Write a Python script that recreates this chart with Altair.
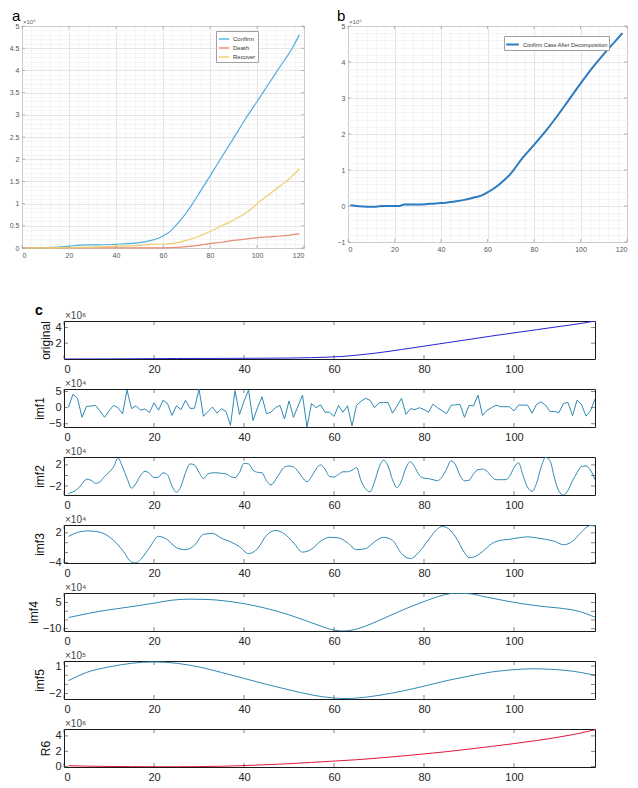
import altair as alt
import pandas as pd

FONT = "Liberation Sans"

# ---------------- panel a : cumulative cases (x10^6) ----------------
a_days_confirm = [0, 10, 20, 25, 30, 40, 50, 55, 58, 60, 62, 65, 68, 70, 72, 75, 80, 85, 90, 95, 100, 105, 110, 115, 118]
a_confirm = [0, 0.01, 0.04, 0.065, 0.07, 0.085, 0.12, 0.17, 0.22, 0.27, 0.33, 0.48, 0.66, 0.8, 0.95, 1.2, 1.62, 2.05, 2.47, 2.9, 3.3, 3.7, 4.1, 4.5, 4.8]
a_days_death = [0, 20, 40, 60, 63, 65, 70, 75, 80, 85, 90, 95, 100, 105, 110, 115, 118]
a_death = [0, 0.002, 0.004, 0.005, 0.007, 0.012, 0.03, 0.06, 0.1, 0.13, 0.17, 0.2, 0.23, 0.25, 0.27, 0.3, 0.32]
a_days_recover = [0, 10, 20, 30, 40, 50, 55, 60, 65, 70, 75, 80, 85, 90, 95, 98, 100, 105, 110, 115, 118]
a_recover = [0, 0.005, 0.01, 0.02, 0.04, 0.06, 0.08, 0.09, 0.11, 0.17, 0.26, 0.37, 0.5, 0.63, 0.78, 0.9, 1.0, 1.2, 1.4, 1.62, 1.78]
a_names = ["Confirm", "Death", "Recover"]
a_colors = ["#4FAEDB", "#E58C72", "#EDCE6C"]
a_major_y = [0, 0.5, 1, 1.5, 2, 2.5, 3, 3.5, 4, 4.5, 5]
ab_major_x = [0, 20, 40, 60, 80, 100, 120]

# ---------------- panel b : confirm case after decomposition (x10^6) ----------------
b_days = [1, 3, 5, 8, 10, 12, 15, 18, 20, 22, 23, 24, 26, 30, 35, 40, 45, 50, 55, 57, 60, 63, 65, 70, 75, 80, 85, 90, 95, 100, 105, 110, 115, 118]
b_vals = [0.02, 0.01, -0.01, -0.02, -0.02, -0.02, 0.0, 0.0, 0.0, 0.0, 0.02, 0.04, 0.04, 0.04, 0.06, 0.08, 0.12, 0.17, 0.25, 0.28, 0.38, 0.5, 0.6, 0.9, 1.33, 1.7, 2.08, 2.5, 2.95, 3.4, 3.83, 4.22, 4.58, 4.8]
b_name = "Confirm Case After Decomposition"
b_major_y = [-1, 0, 1, 2, 3, 4, 5]

# ---------------- panel c : EMD decomposition ----------------
imf1 = [0.2, 4.2, 2.9, -3.0, 0.4, 0.5, 0.7, -1.0, -3.0, -1.0,
        0.7, 0.0, -1.9, 5.5, -0.3, 0.6, -0.8, -0.4, -1.5, 1.5,
        -0.8, 2.3, 1.3, -2.4, 0.6, -0.6, 2.3, -0.2, -0.2, 5.7,
        -2.7, -1.2, 0.2, -1.7, -0.3, -1.2, -5.5, 5.3, -2.1, 2.0,
        5.5, -4.0, 0.0, 3.4, -1.9, -1.4, 0.0, 0.7, -3.5, 2.1,
        -3.0, 0.5, 3.9, -6.0, 1.3, 0.0, 0.9, -1.4, -1.4, -2.7,
        0.7, -1.4, 0.6, -5.7, 0.7, 2.0, 2.9, 2.3, 0.0, 1.5,
        1.6, 1.6, -1.7, 0.5, 2.9, -2.1, -0.3, -0.6, 0.0, -0.6,
        -1.4, 1.1, 0.0, -0.9, -1.9, 0.7, 0.9, 1.0, -3.0, 0.7,
        0.6, 3.9, -2.4, -0.8, 0.0, 0.8, 0.3, 0.3, 0.3, -1.0,
        0.8, 0.8, 0.8, -1.7, 1.0, 1.8, 0.8, -1.2, -1.2, -1.5,
        1.3, 1.6, -2.5, 2.3, 1.0, -2.6, -1.0, 2.7]
imf2 = [-3.4, -3.1, -2.6, -1.6, -0.7, -0.9, -1.5, -1.2, -0.2, 0.6,
        1.6, 3.3, 1.6, -0.5, -2.4, -1.5, 0.0, 0.8, 0.4, -0.4,
        -0.3, 0.5, 0.1, -2.0, -3.2, -2.0, 0.5, 2.2, 2.0, 0.6,
        -0.6, 0.3, 0.5, 0.5, 0.4, 0.3, -0.2, -0.4, 0.6, 2.3,
        2.2, 1.0, 0.6, 0.5, -1.0, -1.8, -0.8, 0.5, 1.6, 1.8,
        1.6, 0.8, -0.4, -1.2, -0.2, 1.2, 2.0, 1.2, -0.2, -0.3,
        0.2, 0.7, 0.7, 1.0, 1.5, -1.0, -2.5, -3.1, -1.2, 1.5,
        2.9, 1.8, -0.8, -2.3, -1.0, 1.5, 2.6, 1.5, 0.0, -0.5,
        -0.6, -0.8, -1.0, -0.3, 1.2, 2.8, 2.0, 0.0, -1.0, -0.9,
        0.3, 1.1, 1.2, 0.8, -0.2, -0.8, -0.8, -0.8, -0.2, 1.5,
        2.4, 0.0, -2.2, -3.0, -1.5, 1.5, 3.4, 2.8, -0.5, -3.0,
        -3.7, -2.8, -1.0, 0.5, 1.7, 1.8, 1.0, -0.8]
imf12_days = list(range(1, 119))
imf3_days = [1, 3, 5, 7, 9, 11, 13, 15, 16, 17, 19, 21, 23, 25, 27, 29, 31, 33, 35, 37, 39, 41, 43, 45, 47, 49, 51, 53, 55, 57, 59, 61, 63, 65, 67, 69, 71, 73, 75, 77, 79, 81, 83, 84, 85, 87, 89, 90, 91, 93, 95, 97, 99, 101, 103, 105, 107, 109, 111, 113, 115, 117, 118]
imf3 = [1.3, 2.1, 2.4, 2.3, 1.8, 0.5, -1.5, -3.9, -4.1, -3.4, -1.0, 1.3, 0.6, -1.0, -1.4, -0.5, 1.7, 1.9, 0.9, 0.2, -0.8, -2.2, -1.2, 1.5, 2.5, 1.8, 0.0, -1.9, -1.3, 0.3, 1.1, 1.0, 0.0, -1.4, -1.2, 0.2, 1.1, 0.5, -2.2, -3.2, -1.8, 0.6, 2.8, 3.3, 3.1, 1.2, -2.0, -3.0, -2.9, -1.8, -0.2, 0.5, 0.7, 1.0, 1.2, 1.0, 0.7, 0.3, -0.4, 0.3, 2.2, 3.5, 3.4]
imf4_days = [1, 4, 8, 12, 16, 20, 24, 28, 32, 36, 40, 44, 48, 52, 56, 60, 62, 64, 68, 72, 76, 80, 84, 87, 90, 94, 98, 102, 106, 110, 114, 118]
imf4 = [-3.6, -2.0, 0.0, 1.5, 3.0, 4.6, 6.3, 6.9, 6.7, 5.8, 4.3, 2.2, -0.5, -3.8, -7.5, -10.8, -11.3, -10.8, -7.5, -3.0, 1.5, 5.5, 9.0, 10.3, 10.0, 8.0, 6.0, 4.2, 2.8, 1.8, 0.2, -3.4]
imf5_days = [1, 5, 10, 15, 20, 25, 30, 35, 40, 45, 50, 55, 60, 62, 65, 70, 75, 80, 85, 90, 95, 100, 104, 108, 112, 118]
imf5 = [-0.6, 0.3, 0.9, 1.3, 1.45, 1.3, 0.9, 0.3, -0.35, -1.0, -1.6, -2.15, -2.5, -2.55, -2.5, -2.2, -1.75, -1.2, -0.6, -0.1, 0.35, 0.6, 0.7, 0.65, 0.5, 0.0]
r6_days = [1, 5, 10, 15, 20, 25, 30, 35, 40, 45, 50, 55, 60, 65, 70, 75, 80, 85, 90, 95, 100, 105, 110, 115, 118]
r6 = [0.12, 0.06, 0.02, 0.0, -0.02, -0.02, 0.0, 0.05, 0.13, 0.25, 0.38, 0.55, 0.72, 0.9, 1.12, 1.38, 1.65, 1.95, 2.28, 2.63, 3.0, 3.4, 3.85, 4.4, 4.8]

c_names = ["original", "imf1", "imf2", "imf3", "imf4", "imf5", "R6"]
c_exponents = ["×10⁶", "×10⁴", "×10⁴", "×10⁴", "×10⁴", "×10⁵", "×10⁶"]
c_domains = [[0, 4.8], [-6.0, 5.8], [-3.7, 3.5], [-4.1, 3.6], [-11.3, 10.4], [-2.6, 1.55], [-0.05, 4.9]]
c_ticks = [[2, 4], [-5, 0, 5], [-2, 0, 2], [-4, -2, 0, 2], [-10, -5, 0, 5], [-2, -1, 0, 1], [0, 2, 4]]
c_colors = ["#2424D8", "#2F8AB5", "#2F8AB5", "#2F8AB5", "#2F8AB5", "#2F8AB5", "#E0163C"]
c_x_ticks = [0, 20, 40, 60, 80, 100]

GRID_MAJOR = "#DADADA"
GRID_MINOR = "#F1F1F1"


def text_layer(txt, x, y, size, color="#000", weight="normal"):
    return alt.Chart(pd.DataFrame({"t": [txt]})).mark_text(
        align="left", baseline="alphabetic", fontSize=size, font=FONT,
        color=color, fontWeight=weight
    ).encode(text="t:N", x=alt.value(x), y=alt.value(y))


def inner_ticks(xvals, yvals, w, h, size, color, x_enc, y_enc):
    """Inward tick marks on all four sides of a frame (MATLAB style)."""
    dx = pd.DataFrame({"day": xvals})
    dy = pd.DataFrame({"v": yvals})
    half = size / 2.0
    out = []
    for ypix in (half, h - half):
        out.append(alt.Chart(dx).mark_tick(orient="vertical", size=size, thickness=0.8, color=color)
                   .encode(x=x_enc, y=alt.value(ypix)))
    for xpix in (half, w - half):
        out.append(alt.Chart(dy).mark_tick(orient="horizontal", size=size, thickness=0.8, color=color)
                   .encode(y=y_enc, x=alt.value(xpix)))
    return out


def small_axis_x():
    return alt.Axis(values=list(range(0, 121, 4)), labelExpr="datum.value % 20 === 0 ? datum.label : ''",
                    grid=True,
                    gridColor={"condition": {"test": "datum.value % 20 === 0", "value": GRID_MAJOR}, "value": GRID_MINOR},
                    gridWidth=0.7, ticks=False, domain=False, labelFontSize=7, labelColor="#555",
                    labelFont=FONT, labelPadding=3, labelOverlap=False, title=None)


# ---- panel a chart ----
rows = []
for d, v in zip(a_days_confirm, a_confirm):
    rows.append({"day": d, "v": v, "series": "Confirm"})
for d, v in zip(a_days_death, a_death):
    rows.append({"day": d, "v": v, "series": "Death"})
for d, v in zip(a_days_recover, a_recover):
    rows.append({"day": d, "v": v, "series": "Recover"})
df_a = pd.DataFrame(rows)

A_W, A_H = 282, 222
a_yvals = [round(i * 0.1, 1) for i in range(51)]
a_x = alt.X("day:Q", scale=alt.Scale(domain=[0, 120], nice=False), axis=small_axis_x())
a_y = alt.Y("v:Q", scale=alt.Scale(domain=[0, 5], nice=False),
            axis=alt.Axis(values=a_yvals,
                          labelExpr="abs(datum.value*2 - round(datum.value*2)) < 0.001 ? format(datum.value, '~g') : ''",
                          grid=True,
                          gridColor={"condition": {"test": "abs(datum.value*2 - round(datum.value*2)) < 0.001", "value": GRID_MAJOR}, "value": GRID_MINOR},
                          gridWidth=0.7, ticks=False, domain=False, labelFontSize=7, labelColor="#555",
                          labelFont=FONT, labelPadding=3, labelOverlap=False, title=None))
a_lines = alt.Chart(df_a).mark_line(strokeWidth=1.2, interpolate="monotone").encode(
    x=a_x, y=a_y,
    color=alt.Color("series:N", scale=alt.Scale(domain=a_names, range=a_colors),
                    legend=alt.Legend(title=None, orient="none", legendX=194, legendY=5, fillColor="white",
                                      strokeColor="#A0A0A0", padding=2, labelFontSize=6, labelFont=FONT,
                                      labelColor="#333", symbolType="stroke", symbolSize=110,
                                      symbolStrokeWidth=1.4, rowPadding=-4, labelOffset=3)),
    order=alt.Order("day:Q"),
)
chart_a = alt.layer(
    a_lines,
    *inner_ticks(ab_major_x, a_major_y, A_W, A_H, 3, "#8A8A8A", a_x, a_y),
    text_layer("×10⁶", 1, -2, 6, "#666"),
    text_layer("a", -10, -5, 15),
).properties(width=A_W, height=A_H, view=alt.ViewBackground(stroke="#A8A8A8", strokeWidth=1))

# ---- panel b chart ----
B_W, B_H = 279, 216
df_b = pd.DataFrame({"day": b_days, "v": b_vals, "curve": [b_name] * len(b_days)})
b_yvals = [round(-1 + i * 0.2, 1) for i in range(31)]
b_x = alt.X("day:Q", scale=alt.Scale(domain=[0, 120], nice=False), axis=small_axis_x())
b_y = alt.Y("v:Q", scale=alt.Scale(domain=[-1, 5], nice=False),
            axis=alt.Axis(values=b_yvals,
                          labelExpr="abs(datum.value - round(datum.value)) < 0.001 ? format(datum.value, '~g') : ''",
                          grid=True,
                          gridColor={"condition": {"test": "abs(datum.value - round(datum.value)) < 0.001", "value": GRID_MAJOR}, "value": GRID_MINOR},
                          gridWidth=0.7, ticks=False, domain=False, labelFontSize=7, labelColor="#555",
                          labelFont=FONT, labelPadding=3, labelOverlap=False, title=None))
b_line = alt.Chart(df_b).mark_line(strokeWidth=2, interpolate="monotone").encode(
    x=b_x, y=b_y,
    color=alt.Color("curve:N", scale=alt.Scale(domain=[b_name], range=["#2A7BBF"]),
                    legend=alt.Legend(title=None, orient="none", legendX=156, legendY=10, fillColor="white",
                                      strokeColor="#A0A0A0", padding=1, labelFontSize=5.5, labelFont=FONT,
                                      labelColor="#333", symbolType="stroke", symbolSize=160,
                                      symbolStrokeWidth=2, labelOffset=3)),
)
chart_b = alt.layer(
    b_line,
    *inner_ticks(ab_major_x, b_major_y, B_W, B_H, 3, "#8A8A8A", b_x, b_y),
    text_layer("×10⁶", 1, -2, 6, "#666"),
    text_layer("b", -11, -5, 15),
).properties(width=B_W, height=B_H, view=alt.ViewBackground(stroke="#A8A8A8", strokeWidth=1))

top = alt.hconcat(chart_a, chart_b, spacing=31).resolve_scale(color="independent").resolve_legend(color="independent")

# ---- panel c charts ----
C_W, C_H = 531, 38
c_days = [a_days_confirm, imf12_days, imf12_days, imf3_days, imf4_days, imf5_days, r6_days]
c_vals = [a_confirm, imf1, imf2, imf3, imf4, imf5, r6]
c_interp = ["monotone", "linear", "monotone", "monotone", "monotone", "monotone", "monotone"]

subs = []
for i in range(7):
    dfc = pd.DataFrame({"day": c_days[i], "v": c_vals[i]})
    cx = alt.X("day:Q", scale=alt.Scale(domain=[0, 118], nice=False, zero=False),
               axis=alt.Axis(values=c_x_ticks, title=None, grid=False, ticks=False, domain=False,
                             labelFontSize=11, labelColor="#262626", labelFont=FONT, labelPadding=4))
    cy = alt.Y("v:Q", scale=alt.Scale(domain=c_domains[i], nice=False, zero=False),
               axis=alt.Axis(values=c_ticks[i], title=c_names[i], titleFontSize=12, titleFontWeight="normal",
                             titleColor="#111", titleFont=FONT, grid=False, ticks=False, domain=False,
                             labelFontSize=11, labelColor="#262626", labelFont=FONT, labelPadding=3,
                             titlePadding=2))
    line = alt.Chart(dfc).mark_line(color=c_colors[i], strokeWidth=1.0, interpolate=c_interp[i], clip=True).encode(
        x=cx, y=cy)
    layers = [line] + inner_ticks(c_x_ticks, c_ticks[i], C_W, C_H, 4, "#262626", cx, cy)
    layers.append(text_layer(c_exponents[i], 1, -2, 10, "#444"))
    if i == 0:
        layers.append(text_layer("c", -29, -6, 14, "#000", "bold"))
    sub = alt.layer(*layers).properties(width=C_W, height=C_H,
                                        view=alt.ViewBackground(stroke="#1A1A1A", strokeWidth=1))
    subs.append(sub)

cstack = alt.vconcat(*subs, spacing=3)
spacer = alt.Chart(pd.DataFrame({"z": [0]})).mark_point(opacity=0).encode(
    x=alt.value(0), y=alt.value(0)).properties(width=1, height=1, view=alt.ViewBackground(strokeOpacity=0))
bottom = alt.hconcat(spacer, cstack, spacing=1)

chart = alt.vconcat(top, bottom, spacing=44).properties(
    padding={"left": 0, "top": 0, "right": 0, "bottom": 0}
).configure(font=FONT)

chart.save("out.html", embed_options={"renderer": "svg", "actions": False})
